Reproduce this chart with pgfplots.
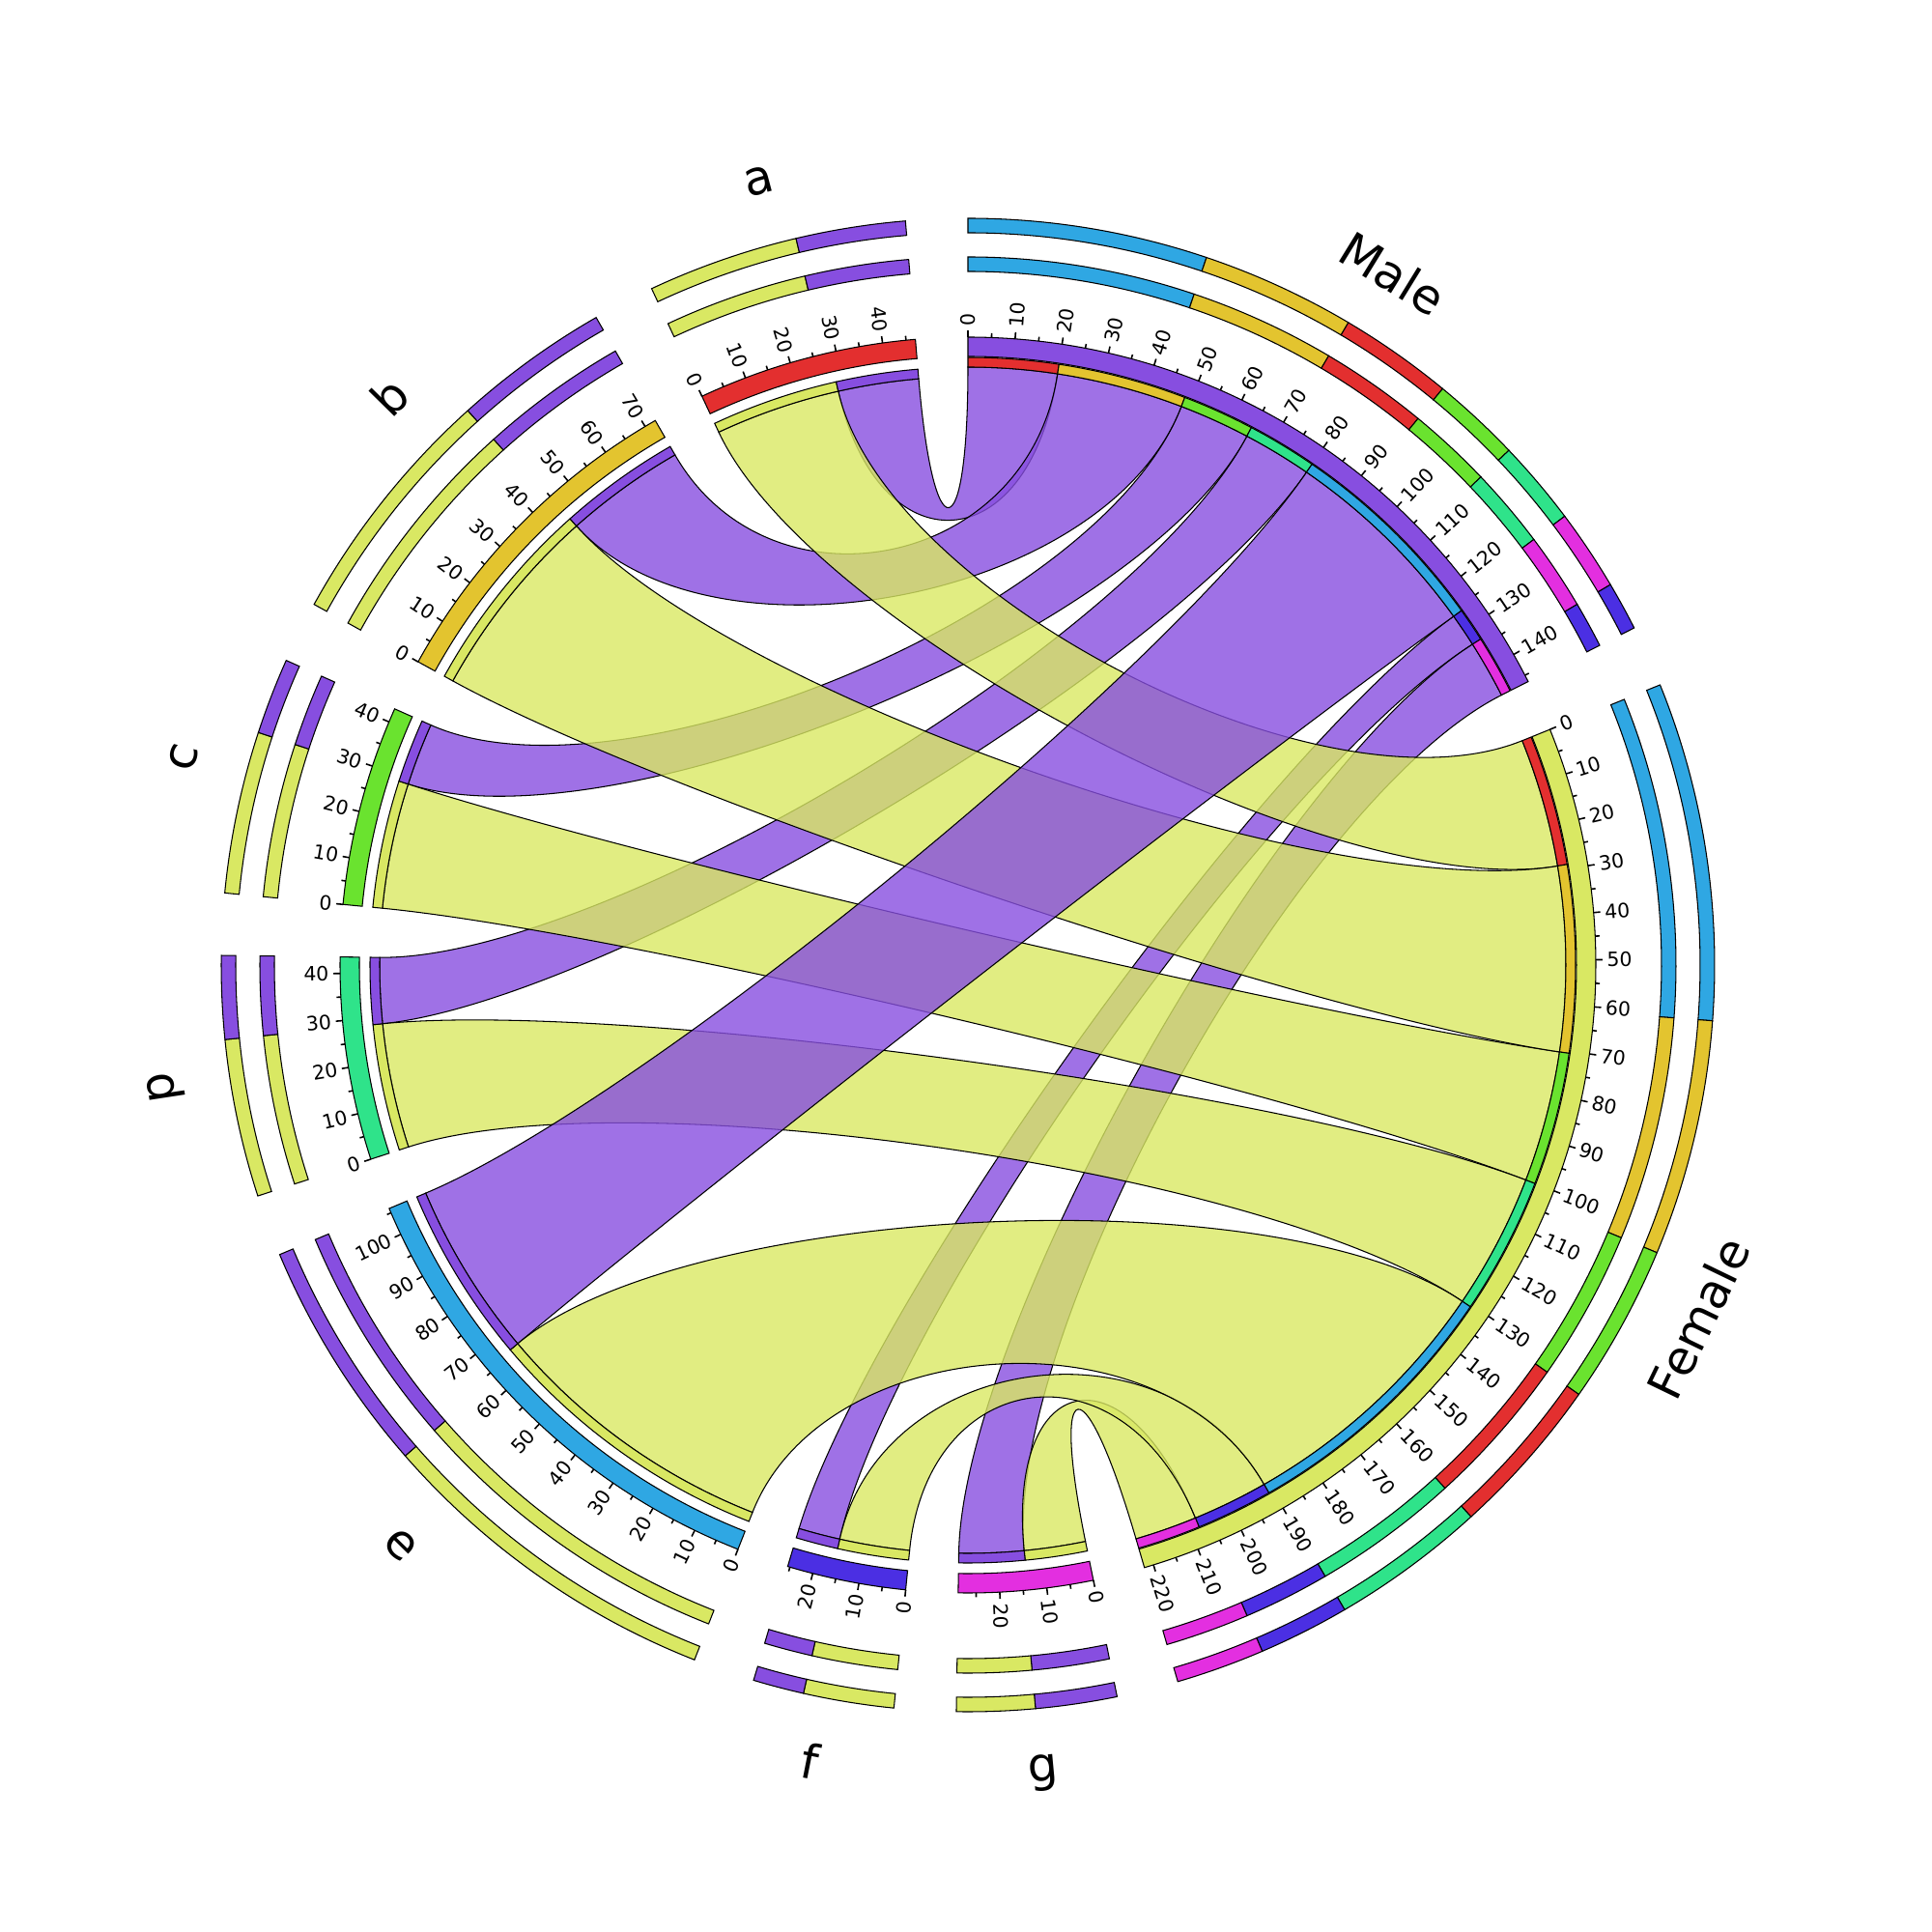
\documentclass[border=0pt]{standalone}
\usepackage{pgfplots}
\pgfplotsset{compat=1.18}
\usepackage{fontspec}
\setmainfont{DejaVu Sans}

\definecolor{cM}{HTML}{874EE0}
\definecolor{cF}{HTML}{D9E863}
\definecolor{ca}{HTML}{E32F2F}
\definecolor{cb}{HTML}{E3C42F}
\definecolor{cc}{HTML}{6AE32F}
\definecolor{cp}{HTML}{2FE38A}
\definecolor{ce}{HTML}{2FA7E3}
\definecolor{cf}{HTML}{4B2FE3}
\definecolor{cg}{HTML}{E32FE0}

% link widths: category / Male->X (on Male arc) / Female->X (on Female arc)
%              / X->Female (on X arc) / X->Male (on X arc)
\def\linkdata{a/20/29/28.6/18.4,b/28.5/41.5/45/27.5,c/16/29.5/28.7/14.3,p/15.5/30.5/28.5/15,e/46/60.5/66/40,f/7.5/17/16/9.5,g/13/14/14/14.8}

% outer stacked rings: shares within each sector, in drawing order
\def\ringMale{ce/29.5,cb/19,ca/14,cc/11,cp/10.5,cg/10,cf/6}
\def\ringFemale{ce/27.5,cb/19.2,cc/13,ca/13.1,cp/12.6,cf/7.4,cg/7.2}
\def\ringa{cF/58,cM/42}
\def\ringb{cF/61,cM/39}
\def\ringc{cF/68,cM/32}
\def\ringp{cF/65.5,cM/34.5}
\def\ringe{cF/60,cM/40}
\def\ringf{cF/64,cM/36}
\def\ringg{cM/51,cF/49}

\def\gapdeg{4.8}
\def\chordorder{M/f,M/g,F/g,M/p,M/c,F/f,M/a,M/b,F/a,F/c,F/p,F/b,M/e,F/e}

\newcommand\tickfont{\fontsize{5.8}{6.5}\selectfont}
\newcommand\labfont{\fontsize{14}{16}\selectfont}

\newcommand\annulus[5]{%
  \filldraw[fill=#5, draw=black, line width=0.3pt]
    (axis cs:{(#2)*cos(#3)},{(#2)*sin(#3)})
    arc[start angle=#3, end angle=#4, radius=#2*0.01cm]
    -- (axis cs:{(#1)*cos(#4)},{(#1)*sin(#4)})
    arc[start angle=#4, end angle=#3, radius=#1*0.01cm] -- cycle;}

\newcommand\chord[7]{%
  \pgfmathsetmacro\dA{min(Mod((#3)-(#5),360),Mod((#5)-(#3),360))}%
  \pgfmathsetmacro\dB{min(Mod((#6)-(#2),360),Mod((#2)-(#6),360))}%
  \pgfmathsetmacro\rA{614*(0.70-0.0007*\dA)}%
  \pgfmathsetmacro\rB{614*(0.70-0.0007*\dB)}%
  \filldraw[fill=#7, fill opacity=0.8, draw=black, line width=0.3pt]
    (axis cs:{(#1)*cos(#2)},{(#1)*sin(#2)})
    arc[start angle=#2, end angle=#3, radius=#1*0.01cm]
    .. controls (axis cs:{\rA*cos(#3)},{\rA*sin(#3)}) and (axis cs:{\rA*cos(#5)},{\rA*sin(#5)}) ..
    (axis cs:{(#4)*cos(#5)},{(#4)*sin(#5)})
    arc[start angle=#5, end angle=#6, radius=#4*0.01cm]
    .. controls (axis cs:{\rB*cos(#6)},{\rB*sin(#6)}) and (axis cs:{\rB*cos(#2)},{\rB*sin(#2)}) ..
    cycle;}

\newcommand\sectorticks[2]{%
  \pgfmathtruncatemacro\nt{floor((#2)/5)}%
  \foreach \j in {0,...,\nt}{%
    \pgfmathsetmacro\tk{(#1)-5*\j*\kdeg}%
    \pgfmathtruncatemacro\ismaj{Mod(\j,2)==0}%
    \ifnum\ismaj=1
      \draw[line width=0.45pt] (axis cs:{650*cos(\tk)},{650*sin(\tk)}) -- (axis cs:{657*cos(\tk)},{657*sin(\tk)});
      \pgfmathtruncatemacro\lab{5*\j}%
      \pgfmathsetmacro\ddd{Mod(90-\tk,360)}%
      \pgfmathtruncatemacro\isR{\ddd<180}%
      \ifnum\isR=1
        \node[rotate=\tk, anchor=west, inner sep=0pt, font=\tickfont] at (axis cs:{661*cos(\tk)},{661*sin(\tk)}) {\lab};
      \else
        \pgfmathsetmacro\rr{\tk+180}%
        \node[rotate=\rr, anchor=east, inner sep=0pt, font=\tickfont] at (axis cs:{661*cos(\tk)},{661*sin(\tk)}) {\lab};
      \fi
    \else
      \draw[line width=0.45pt] (axis cs:{650*cos(\tk)},{650*sin(\tk)}) -- (axis cs:{654.5*cos(\tk)},{654.5*sin(\tk)});
    \fi
  }}

\newcommand\sectorlabel[3]{%
  \pgfmathsetmacro\mth{(#1)-(#2)*\kdeg/2}%
  \pgfmathsetmacro\tm{Mod(\mth,360)}%
  \pgfmathtruncatemacro\isB{(\tm>=225)||(\tm<45)}%
  \ifnum\isB=1 \pgfmathsetmacro\rr{\mth+90}\else\pgfmathsetmacro\rr{\mth-90}\fi
  \node[rotate=\rr, font=\labfont, inner sep=0pt] at (axis cs:{840*cos(\mth)},{840*sin(\mth)}) {#3};}

\newcommand\outerrings[3]{%
  \gdef\rsum{0}%
  \foreach \col/\val in #3 {\pgfmathsetmacro\tmp{\rsum+\val}\xdef\rsum{\tmp}}%
  \gdef\racc{0}%
  \foreach \col/\val in #3 {%
    \pgfmathsetmacro\ta{(#1)-(#2)*\kdeg*\racc/\rsum}%
    \pgfmathsetmacro\tmp{\racc+\val}\xdef\racc{\tmp}%
    \pgfmathsetmacro\tb{(#1)-(#2)*\kdeg*\racc/\rsum}%
    \annulus{718}{733}{\ta}{\tb}{\col}%
    \annulus{758}{773}{\ta}{\tb}{\col}%
  }}

\begin{document}
\begin{tikzpicture}
% ---------- layout from the data
\gdef\sumM{0}\gdef\sumF{0}\gdef\sumX{0}
\foreach \X/\mx/\fx/\xf/\xm in \linkdata {%
  \expandafter\xdef\csname MX\X\endcsname{\mx}%
  \expandafter\xdef\csname FX\X\endcsname{\fx}%
  \expandafter\xdef\csname XF\X\endcsname{\xf}%
  \expandafter\xdef\csname XM\X\endcsname{\xm}%
  \expandafter\xdef\csname oM\X\endcsname{\sumM}%
  \expandafter\xdef\csname oF\X\endcsname{\sumF}%
  \pgfmathsetmacro\tmp{\sumM+\mx}\xdef\sumM{\tmp}%
  \pgfmathsetmacro\tmp{\sumF+\fx}\xdef\sumF{\tmp}%
  \pgfmathsetmacro\tmp{\xf+\xm}%
  \expandafter\xdef\csname size\X\endcsname{\tmp}%
  \pgfmathsetmacro\tmp{\sumX+\xf+\xm}\xdef\sumX{\tmp}%
}
\pgfmathsetmacro\tmp{(360-9*\gapdeg)/(\sumM+\sumF+\sumX)}\xdef\kdeg{\tmp}
\xdef\thMale{90}
\pgfmathsetmacro\tmp{90-\sumM*\kdeg-\gapdeg}\xdef\thFemale{\tmp}
\pgfmathsetmacro\tmp{\thFemale-\sumF*\kdeg-\gapdeg}\xdef\cur{\tmp}
\foreach \X in {g,f,e,p,c,b,a}{%
  \expandafter\xdef\csname ang\X\endcsname{\cur}%
  \edef\sz{\csname size\X\endcsname}%
  \pgfmathsetmacro\tmp{\cur-\sz*\kdeg-\gapdeg}\xdef\cur{\tmp}}

\begin{axis}[hide axis, disabledatascaling, x=0.01cm, y=0.01cm,
  xmin=-1002, xmax=998, ymin=-1001, ymax=999, clip=false]
\pgfplotsextra{%
  % ---- chords
  \foreach \side/\X in \chordorder {%
    \edef\oM{\csname oM\X\endcsname}\edef\oF{\csname oF\X\endcsname}%
    \edef\MX{\csname MX\X\endcsname}\edef\FX{\csname FX\X\endcsname}%
    \edef\XF{\csname XF\X\endcsname}\edef\XM{\csname XM\X\endcsname}%
    \edef\thX{\csname ang\X\endcsname}%
    \if M\side
      \pgfmathsetmacro\Aone{\thMale-\oM*\kdeg}%
      \pgfmathsetmacro\Atwo{\Aone-\MX*\kdeg}%
      \pgfmathsetmacro\Bone{\thX-\XF*\kdeg}%
      \pgfmathsetmacro\Btwo{\Bone-\XM*\kdeg}%
      \chord{619}{\Aone}{\Atwo}{609}{\Bone}{\Btwo}{cM}%
    \else
      \pgfmathsetmacro\Aone{\thFemale-\oF*\kdeg}%
      \pgfmathsetmacro\Atwo{\Aone-\FX*\kdeg}%
      \pgfmathsetmacro\Bone{\thX}%
      \pgfmathsetmacro\Btwo{\Bone-\XF*\kdeg}%
      \chord{619}{\Aone}{\Atwo}{609}{\Bone}{\Btwo}{cF}%
    \fi}
  % ---- tracks and rings of the categories
  \foreach \X in {a,b,c,p,e,f,g}{%
    \edef\oM{\csname oM\X\endcsname}\edef\oF{\csname oF\X\endcsname}%
    \edef\MX{\csname MX\X\endcsname}\edef\FX{\csname FX\X\endcsname}%
    \edef\XF{\csname XF\X\endcsname}\edef\XM{\csname XM\X\endcsname}%
    \edef\thX{\csname ang\X\endcsname}\edef\sz{\csname size\X\endcsname}%
    \edef\rl{\csname ring\X\endcsname}%
    \pgfmathsetmacro\Aone{\thMale-\oM*\kdeg}%
    \pgfmathsetmacro\Atwo{\Aone-\MX*\kdeg}%
    \annulus{619}{629}{\Aone}{\Atwo}{c\X}%
    \pgfmathsetmacro\Aone{\thFemale-\oF*\kdeg}%
    \pgfmathsetmacro\Atwo{\Aone-\FX*\kdeg}%
    \annulus{619}{629}{\Aone}{\Atwo}{c\X}%
    \pgfmathsetmacro\Bone{\thX-\XF*\kdeg}%
    \pgfmathsetmacro\Btwo{\Bone-\XM*\kdeg}%
    \annulus{609}{619}{\thX}{\Bone}{cF}%
    \annulus{609}{619}{\Bone}{\Btwo}{cM}%
    \annulus{630}{650}{\thX}{\Btwo}{c\X}%
    \sectorticks{\thX}{\sz}%
    \sectorlabel{\thX}{\sz}{\X}%
    \outerrings{\thX}{\sz}{\rl}%
  }
  % ---- Male and Female
  \pgfmathsetmacro\Atwo{\thMale-\sumM*\kdeg}%
  \annulus{630}{650}{\thMale}{\Atwo}{cM}%
  \sectorticks{\thMale}{\sumM}%
  \sectorlabel{\thMale}{\sumM}{Male}%
  \outerrings{\thMale}{\sumM}{\ringMale}%
  \pgfmathsetmacro\Atwo{\thFemale-\sumF*\kdeg}%
  \annulus{630}{650}{\thFemale}{\Atwo}{cF}%
  \sectorticks{\thFemale}{\sumF}%
  \sectorlabel{\thFemale}{\sumF}{Female}%
  \outerrings{\thFemale}{\sumF}{\ringFemale}%
}
\end{axis}
\pgfresetboundingbox
\path (current axis.south west) rectangle (current axis.north east);
\end{tikzpicture}
\end{document}
